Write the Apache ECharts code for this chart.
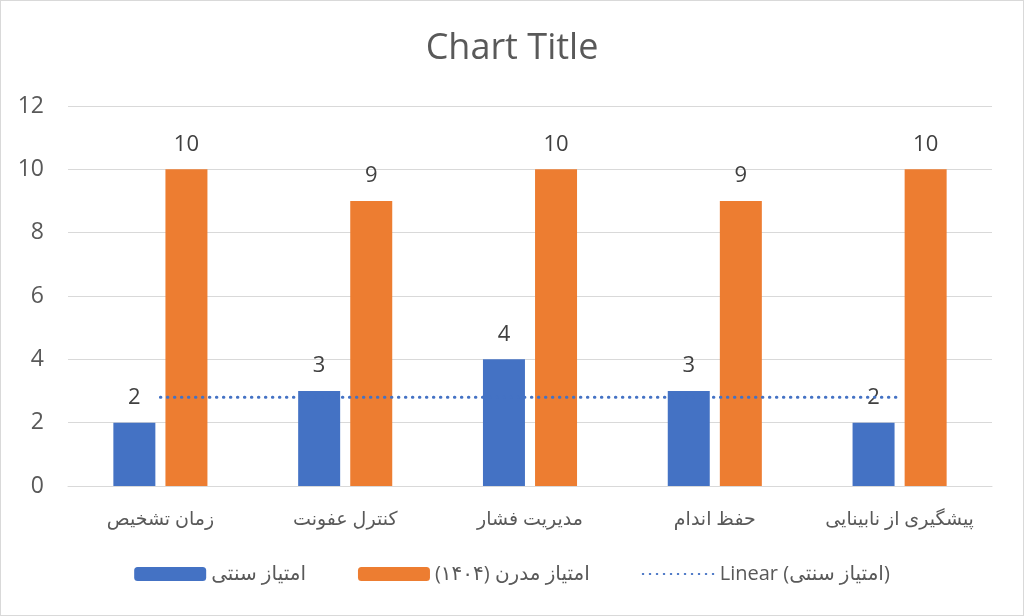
<!DOCTYPE html>
<html dir="rtl">
<head>
<meta charset="utf-8">
<script src="https://cdn.jsdelivr.net/npm/echarts@6/dist/echarts.min.js"></script>
<style>
  html, body { margin: 0; padding: 0; background: #fff; }
  #main { width: 1022px; height: 614px; border: 1px solid #d9d9d9; }
</style>
</head>
<body>
<div id="main"></div>
<script>
var categories = ['زمان تشخیص', 'کنترل عفونت', 'مدیریت فشار', 'حفظ اندام', 'پیشگیری از نابینایی'];
var traditional = [2, 3, 4, 3, 2];
var modern = [10, 9, 10, 9, 10];
var yTicks = { min: 0, max: 12, interval: 2 };
// the trendline name is kept left-to-right inside the rtl canvas
var seriesNames = ['امتیاز سنتی', 'امتیاز مدرن (۱۴۰۴)', '\u202ALinear (امتیاز سنتی)\u202C'];

// least squares trend of the traditional scores
function linearTrend(vals) {
  var n = vals.length, sx = 0, sy = 0, sxy = 0, sxx = 0;
  vals.forEach(function (v, i) { var x = i + 1; sx += x; sy += v; sxy += x * v; sxx += x * x; });
  var b = (n * sxy - sx * sy) / (n * sxx - sx * sx);
  var a = (sy - b * sx) / n;
  return vals.map(function (v, i) { return +(a + b * (i + 1)).toFixed(4); });
}
var trend = linearTrend(traditional);

var font = '"Open Sans", "DejaVu Sans", sans-serif';
var myChart = echarts.init(document.getElementById('main'));
myChart.setOption({
  animation: false,
  textStyle: { fontFamily: font },
  title: {
    text: 'Chart Title',
    left: 'center',
    top: 25,
    textStyle: { fontSize: 36, fontWeight: 'normal', color: '#595959', fontFamily: font }
  },
  legend: {
    bottom: 26,
    left: 'center',
    itemWidth: 72,
    itemHeight: 14,
    itemGap: 52,
    textStyle: { fontSize: 20, color: '#595959', fontFamily: font },
    data: [
      { name: seriesNames[0] },
      { name: seriesNames[1] },
      { name: seriesNames[2], itemStyle: { opacity: 0 } }
    ]
  },
  grid: { left: 67, right: 31, top: 105, bottom: 129, containLabel: false },
  xAxis: {
    type: 'category',
    data: categories,
    axisTick: { show: false },
    axisLine: { lineStyle: { color: '#d9d9d9' } },
    axisLabel: { interval: 0, hideOverlap: false, fontSize: 19, color: '#595959', margin: 24, fontFamily: font }
  },
  yAxis: {
    type: 'value',
    min: yTicks.min,
    max: yTicks.max,
    interval: yTicks.interval,
    axisLine: { show: false },
    axisTick: { show: false },
    splitLine: { lineStyle: { color: '#d9d9d9' } },
    axisLabel: { fontSize: 23, color: '#595959', margin: 24, fontFamily: font }
  },
  series: [
    {
      name: seriesNames[0],
      type: 'bar',
      data: traditional,
      barWidth: 42,
      barGap: '24%',
      itemStyle: { color: '#4472c4' },
      label: { show: true, position: 'top', distance: 14, fontSize: 22, color: '#404040', fontFamily: font }
    },
    {
      name: seriesNames[1],
      type: 'bar',
      data: modern,
      barWidth: 42,
      barGap: '24%',
      itemStyle: { color: '#ed7d31' },
      label: { show: true, position: 'top', distance: 14, fontSize: 22, color: '#404040', fontFamily: font }
    },
    {
      name: seriesNames[2],
      type: 'line',
      data: trend,
      symbol: 'none',
      z: 5,
      itemStyle: { color: '#4472c4' },
      lineStyle: { color: '#4472c4', width: 3, type: [0.5, 6.5], cap: 'round' }
    }
  ]
});
</script>
</body>
</html>
